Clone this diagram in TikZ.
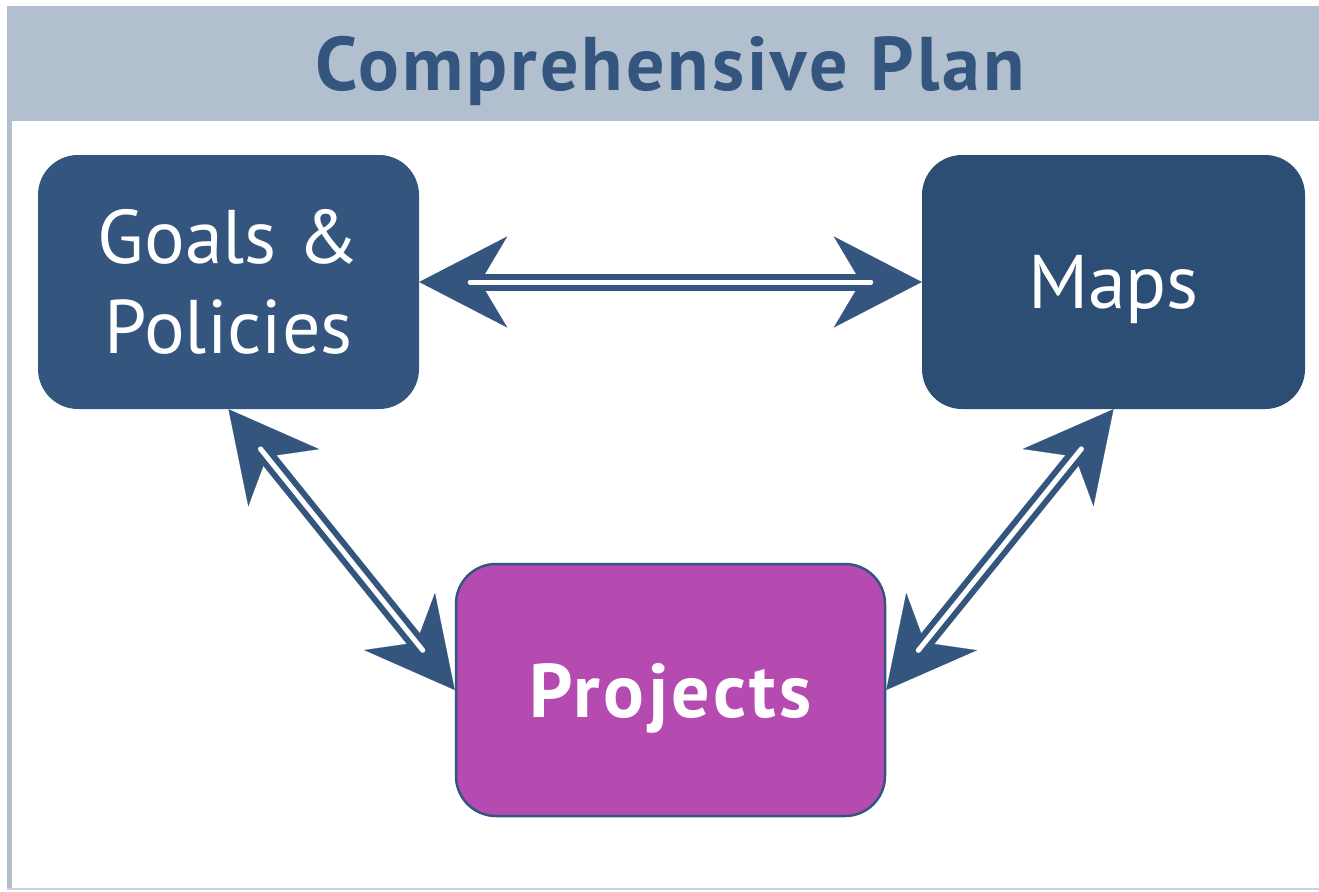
\documentclass[tikz,border=0pt]{standalone}
\usepackage{fontspec}
\setmainfont{PT Sans}
\newfontfamily\titlefont[LetterSpace=4]{PT Sans}
\newfontfamily\projfont[LetterSpace=4.5]{PT Sans}
\usetikzlibrary{arrows.meta}
\definecolor{band}{HTML}{B1BFCF}
\definecolor{navy}{HTML}{34567E}
\definecolor{navyb}{HTML}{2D4E74}
\definecolor{projfill}{HTML}{B54BB0}
\definecolor{rulegray}{HTML}{C9D3DD}
\begin{document}
\begin{tikzpicture}[x=1pt,y=-1pt,
  box/.style={rounded corners=40pt, inner sep=0pt, text=white, align=center,
    font=\fontsize{76}{90}\selectfont},
  heads/.style={draw=navy, line width=0.2pt, {Stealth[length=88pt,width=91pt,inset=27pt]}-{Stealth[length=88pt,width=91pt,inset=27pt]}},
  link/.style={draw=navy, double=white, double distance=5pt, line width=6pt,
    line cap=round, shorten <=51pt, shorten >=51pt}]
\useasboundingbox (0,0) rectangle (1319,891);
% frame
\fill[band] (7,6) rectangle (1319,121);
\fill[band] (7,121) rectangle (12,889);
\draw[rulegray, line width=2pt] (7,889) -- (1319,889);
\node[text=navy, font=\titlefont\bfseries\fontsize{76}{90}\selectfont, anchor=base] (title) at (670,90) {Comprehensive Plan};
% boxes
\node[box, fill=navy, minimum width=381pt, minimum height=254pt] (g) at (228.5,282) {Goals \&\\Policies};
\node[box, fill=navyb, minimum width=383pt, minimum height=254pt, text depth=0pt] (m) at (1113.5,282) {Maps};
\node[box, fill=projfill, draw=navy, line width=2.5pt, minimum width=429pt, minimum height=252pt, text depth=0pt, font=\projfont\bfseries\fontsize{76}{90}\selectfont] (p) at (670.5,690) {Projects};
% connectors
\path[heads] (g.east) -- (m.west);
\draw[link] (g.east) -- (m.west);
\path[heads] (g.south) -- (p.west);
\draw[link] (g.south) -- (p.west);
\path[heads] (m.south) -- (p.east);
\draw[link] (m.south) -- (p.east);
\end{tikzpicture}
\end{document}
